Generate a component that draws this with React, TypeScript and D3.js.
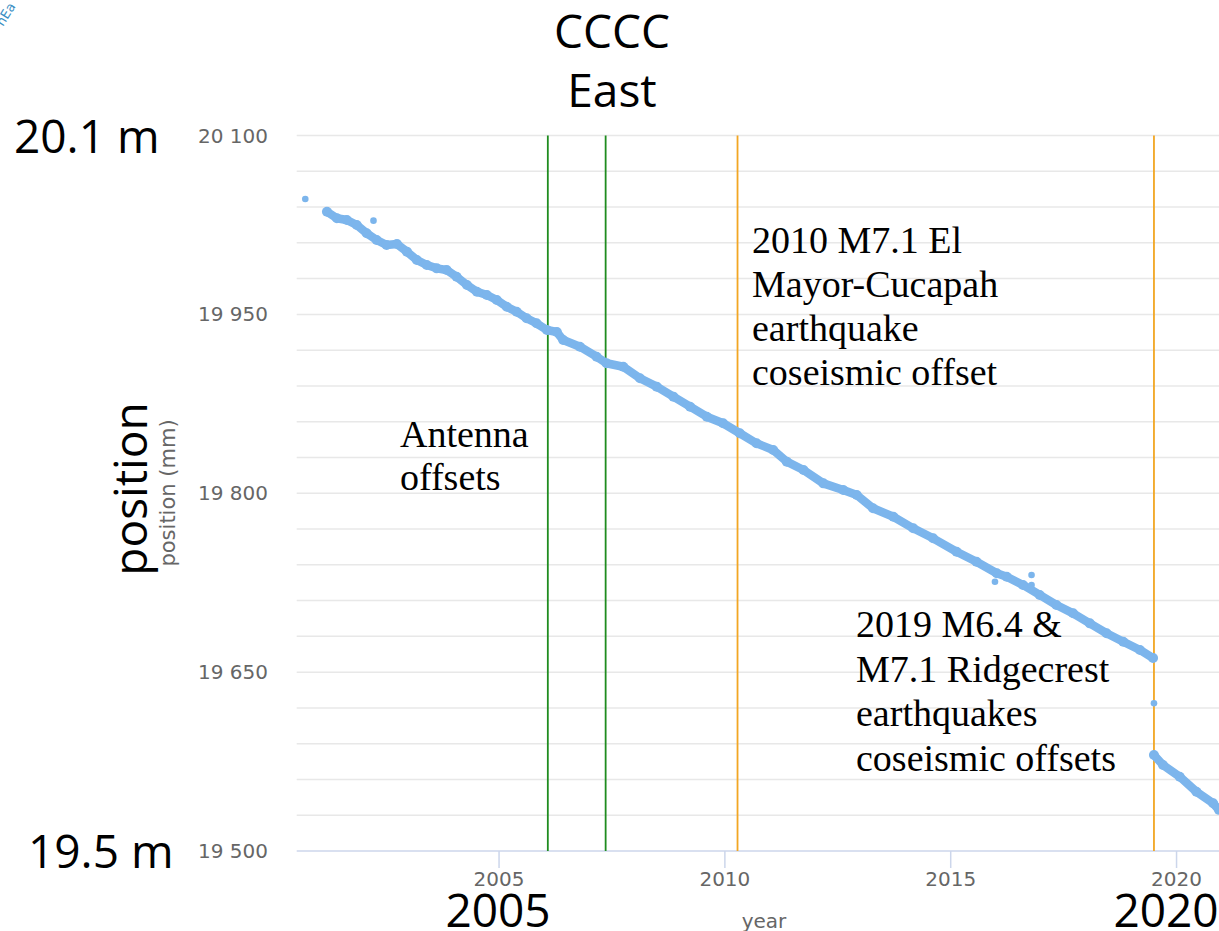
import * as d3 from "d3";

// station CCCC, east component (mm)
const PRE_YEAR = [
  2001.19, 2001.41, 2001.63, 2001.85, 2002.07, 2002.29, 2002.51, 2002.74, 2002.96, 2003.18,
  2003.40, 2003.62, 2003.84, 2004.06, 2004.29, 2004.51, 2004.73, 2004.95, 2005.17, 2005.39,
  2005.61, 2005.83, 2006.06, 2006.28, 2006.42, 2006.79, 2007.16, 2007.38, 2007.75, 2008.12,
  2008.49, 2008.86, 2009.23, 2009.60, 2009.96, 2010.33, 2010.70, 2011.07, 2011.37, 2011.74,
  2012.18, 2012.62, 2012.92, 2013.28, 2013.73, 2014.17, 2014.61, 2015.13, 2015.57, 2016.02,
  2016.24, 2016.60, 2016.97, 2017.34, 2017.71, 2018.08, 2018.45, 2018.82, 2019.19, 2019.48,
];
const PRE_MM = [
  20036.1, 20030.6, 20029.1, 20024.9, 20018.0, 20012.4, 20008.2, 20009.0, 20002.6, 19995.6,
  19991.4, 19988.6, 19987.2, 19981.6, 19974.6, 19969.0, 19966.2, 19962.1, 19956.4, 19952.2,
  19946.7, 19942.5, 19936.9, 19935.2, 19928.5, 19922.9, 19914.5, 19909.0, 19906.1, 19896.4,
  19889.4, 19881.0, 19872.6, 19864.2, 19858.7, 19850.3, 19841.9, 19836.3, 19826.5, 19819.5,
  19808.3, 19802.7, 19798.5, 19787.4, 19780.3, 19770.6, 19762.2, 19751.0, 19742.6, 19732.9,
  19730.0, 19723.1, 19714.7, 19706.3, 19699.3, 19690.9, 19682.6, 19675.5, 19668.6, 19661.8,
];
const POST_YEAR = [2019.50, 2019.70, 2020.07, 2020.44, 2020.81, 2020.94];
const POST_MM = [19580.5, 19572.1, 19562.3, 19549.7, 19540.0, 19534.5];
const LONE_YEAR = [2000.71, 2002.22, 2015.98, 2016.79, 2016.79, 2019.50];
const LONE_MM = [20046.8, 20028.6, 19725.8, 19731.5, 19723.1, 19623.9];

const ANTENNA = [2006.08, 2007.36];
const QUAKES = [2010.28, 2019.50];

const X_TICKS = [2005, 2010, 2015, 2020];
const Y_LABELS = [19500, 19650, 19800, 19950, 20100];
const Y_GRID = d3.range(19500, 20101, 30);

const BLUE = "#7cb5ec";
const HC_FONT = "'DejaVu Sans', sans-serif";
const BIG_FONT = "'Open Sans', sans-serif";
const SERIF = "'Liberation Serif', 'Times New Roman', serif";

const x = d3.scaleLinear().domain([2000.52, 2020.94]).range([296.7, 1219]);
const y = d3.scaleLinear().domain([19500, 20100]).range([851, 135.5]);

const fmt = (v: number) => d3.format(",")(v).replace(",", " ");

export default function App() {
  const pre = PRE_YEAR.map((t, i) => [t, PRE_MM[i]] as [number, number]);
  const post = POST_YEAR.map((t, i) => [t, POST_MM[i]] as [number, number]);
  const line = d3.line<[number, number]>().x(d => x(d[0])).y(d => y(d[1]));
  const [x0, x1] = x.range();
  const yTop = y(20100), yBot = y(19500);

  return (
    <div style={{ position: "fixed", left: 0, top: 0 }}>
      <svg width={1219} height={931} style={{ display: "block", background: "white" }}>
        <defs>
          <clipPath id="plot"><rect x={x0} y={yTop - 10} width={x1 - x0} height={yBot - yTop + 20} /></clipPath>
        </defs>

        {/* corner of the logo */}
        <text transform="translate(3,27) rotate(-58)" fontFamily={HC_FONT} fontSize={13} fill="#3b8fc4">nEa</text>

        {/* grid */}
        {Y_GRID.slice(1).map(v => (
          <line key={v} x1={x0} x2={x1} y1={y(v)} y2={y(v)} stroke="#e8e8e8" strokeWidth={1.5} />
        ))}
        <line x1={x0} x2={x1} y1={yBot} y2={yBot} stroke="#ccd6eb" strokeWidth={1.5} />
        {X_TICKS.map(t => (
          <g key={t}>
            <line x1={x(t)} x2={x(t)} y1={yBot} y2={yBot + 17} stroke="#ccd6eb" strokeWidth={1.5} />
            <text x={x(t)} y={yBot + 35} textAnchor="middle" fontFamily={HC_FONT} fontSize={20} fill="#666">{t}</text>
          </g>
        ))}
        {Y_LABELS.map(v => (
          <text key={v} x={268} y={y(v) + 7} textAnchor="end" fontFamily={HC_FONT} fontSize={20} fill="#666">{fmt(v)}</text>
        ))}
        <text x={764} y={928} textAnchor="middle" fontFamily={HC_FONT} fontSize={20} fill="#666">year</text>
        <text transform={`translate(175,493) rotate(-90)`} textAnchor="middle" fontFamily={HC_FONT} fontSize={21} fill="#666">position (mm)</text>

        {/* event lines */}
        {ANTENNA.map(t => (
          <line key={t} x1={x(t)} x2={x(t)} y1={yTop} y2={yBot} stroke="#1f8c1f" strokeWidth={1.8} />
        ))}
        {QUAKES.map(t => (
          <line key={t} x1={x(t)} x2={x(t)} y1={yTop} y2={yBot} stroke="#f2a623" strokeWidth={1.8} />
        ))}

        {/* series */}
        <g clipPath="url(#plot)">
          {[pre, post].map((seg, i) => (
            <g key={i}>
              <path d={line(seg) ?? ""} fill="none" stroke={BLUE} strokeWidth={8.5} strokeLinejoin="round" strokeLinecap="round" />
              {seg.map((d, j) => <circle key={j} cx={x(d[0])} cy={y(d[1])} r={5} fill={BLUE} />)}
            </g>
          ))}
          {LONE_YEAR.map((t, i) => (
            <circle key={i} cx={x(t)} cy={y(LONE_MM[i])} r={3.3} fill={BLUE} />
          ))}
        </g>

        {/* annotations */}
        <g fontFamily={SERIF} fontSize={38} fill="#000">
          {["2010 M7.1 El", "Mayor-Cucapah", "earthquake", "coseismic offset"].map((s, i) => (
            <text key={s} x={752} y={253 + i * 44}>{s}</text>
          ))}
          {["Antenna", "offsets"].map((s, i) => (
            <text key={s} x={400} y={447 + i * 43}>{s}</text>
          ))}
          {["2019 M6.4 &", "M7.1 Ridgecrest", "earthquakes", "coseismic offsets"].map((s, i) => (
            <text key={s} x={856} y={637 + i * 44.5}>{s}</text>
          ))}
        </g>

        {/* slide labels */}
        <g fontFamily={BIG_FONT} fontSize={46} fill="#000">
          <text x={612} y={48} textAnchor="middle">CCCC</text>
          <text x={612} y={107} textAnchor="middle">East</text>
          <text x={14} y={153}>20.1 m</text>
          <text x={28} y={868}>19.5 m</text>
          <text x={498} y={927} textAnchor="middle">2005</text>
          <text x={1166} y={927} textAnchor="middle">2020</text>
          <text transform="translate(147,489) rotate(-90)" textAnchor="middle">position</text>
        </g>
      </svg>
    </div>
  );
}
